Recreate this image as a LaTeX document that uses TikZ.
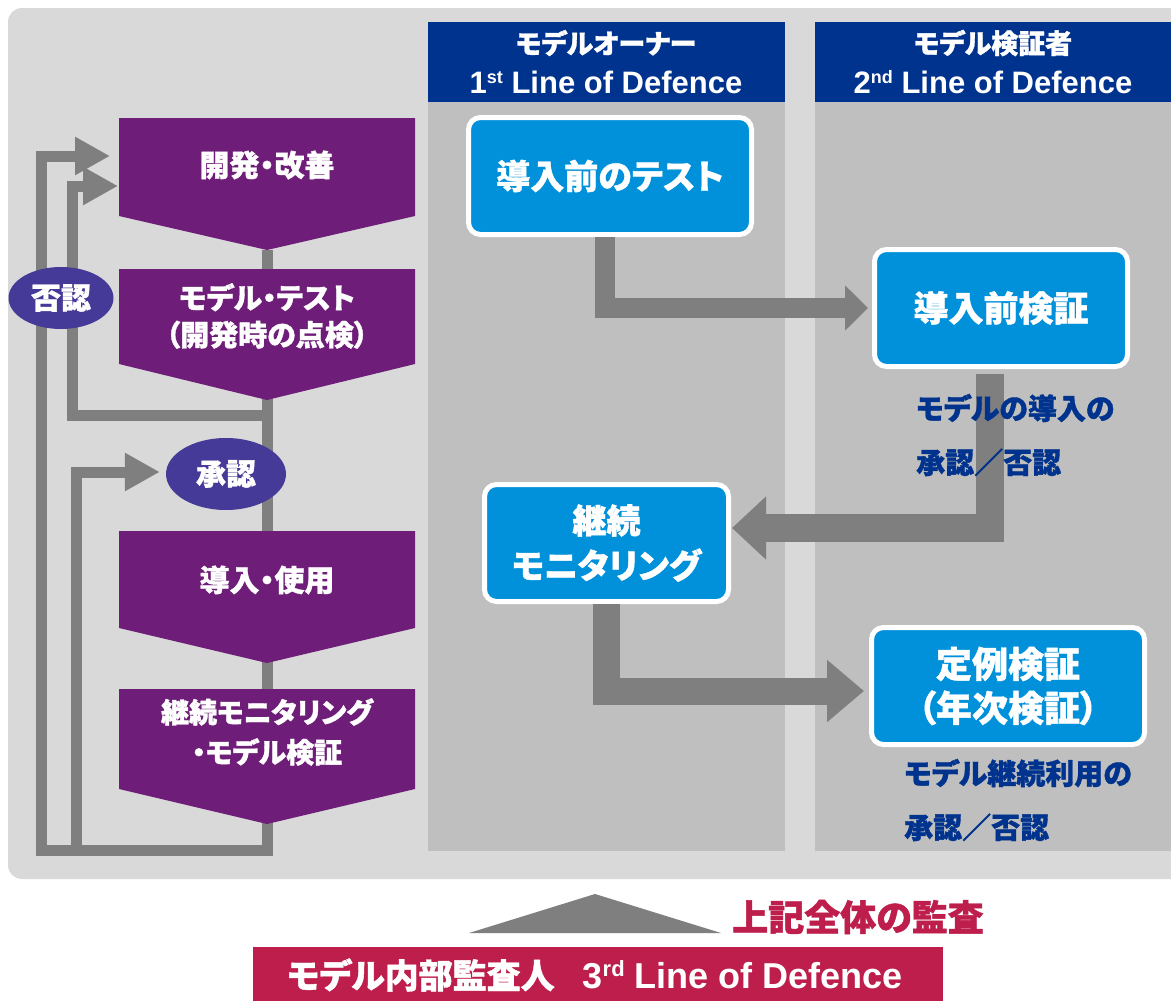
\documentclass[tikz,border=0pt]{standalone}
\usepackage{fontspec}
\newfontfamily\jp{Noto Sans CJK JP}[RawFeature=+palt,BoldFeatures={FakeBold=1.2}]
\newfontfamily\lat{Liberation Sans}
\usetikzlibrary{arrows.meta,shapes.geometric}
\definecolor{bgc}{HTML}{D9D9D9}
\definecolor{colc}{HTML}{BFBFBF}
\definecolor{hdrc}{HTML}{00338D}
\definecolor{purc}{HTML}{6E1E78}
\definecolor{ellc}{HTML}{463A98}
\definecolor{boxc}{HTML}{0091DA}
\definecolor{flowc}{HTML}{7F7F7F}
\definecolor{crim}{HTML}{BE1E4B}
\newcommand\setfs[2]{\fontsize{#1}{#2}\selectfont}
\begin{document}
\begin{tikzpicture}[x=1pt,y=-1pt,
 flow/.style={draw=flowc,line width=11pt,line join=miter},
 ftip/.style={-{Triangle[length=35pt,width=36pt]}},
 ptxt/.style={text=white,font=\jp\bfseries\setfs{29}{37},align=center,inner sep=0pt},
 bbox/.style={rounded corners=12pt,fill=boxc,draw=white,line width=5pt,text=white,align=center,inner sep=0pt,font=\jp\bfseries\setfs{35}{44},minimum height=117pt},
 ell/.style={ellipse,fill=ellc,text=white,inner sep=0pt,font=\jp\bfseries\setfs{30}{32}},
 hjp/.style={text=white,font=\jp\bfseries\setfs{27}{30},inner sep=0pt},
 hlat/.style={text=white,font=\lat\bfseries\setfs{31}{34},inner sep=0pt},
 lab/.style={text=hdrc,font=\jp\bfseries\setfs{29}{54},align=left,inner sep=0pt,anchor=west},
 big/.style={draw=flowc,line join=miter},
]
\useasboundingbox (0,0) rectangle (1171,1001);
\fill[white] (0,0) rectangle (1171,1001);
\fill[bgc,rounded corners=14pt] (8,8) rectangle (1200,879);
% columns
\fill[colc] (428,102) rectangle (785,851);
\fill[colc] (815,102) rectangle (1171,851);
\fill[hdrc] (428,22) rectangle (785,102);
\fill[hdrc] (815,22) rectangle (1171,102);
\node[hjp] (h1a) at (606,43) {モデルオーナー};
\node[hlat] (h1b) at (606,82) {1\raisebox{10pt}{\setfs{18}{18}st} Line of Defence};
\node[hjp] (h2a) at (993,43) {モデル検証者};
\node[hlat] (h2b) at (993,82) {2\raisebox{10pt}{\setfs{18}{18}nd} Line of Defence};

% left flow lines
\coordinate (spTop) at (267,250);
\coordinate (spBot) at (267,850);
\coordinate (in1) at (110,156);
\coordinate (in2) at (118,186);
\coordinate (rejS) at (267,415);
\coordinate (bL) at (76,850);
\draw[flow,ftip] (spTop) -- (spBot) -- (41,850) -- (41,156) -- (in1);
\draw[flow,ftip] (rejS) -- (72,415) -- (72,186) -- (in2);

% purple steps
\foreach \t/\b/\p in {118/216/250, 269/364/400, 531/628/663, 689/789/824}
  \fill[purc] (119,\t) -- (415,\t) -- (415,\b) -- (267,\p) -- (119,\b) -- cycle;
\node[ptxt,font=\jp\bfseries\setfs{30}{37}] (p1) at (267,165) {開発・改善};
\node[ptxt,font=\jp\bfseries\setfs{29}{37}] (p2) at (267,316) {モデル・テスト\\（開発時の点検）};
\node[ptxt,font=\jp\bfseries\setfs{30}{37}] (p3) at (267,580) {導入・使用};
\node[ptxt,font=\jp\bfseries\setfs{28}{40}] (p4) at (267,732) {継続モニタリング\\・モデル検証};

% ellipses
\node[ell,minimum width=105pt,minimum height=62pt] (rej) at (61,298) {否認};
\node[ell,minimum width=120pt,minimum height=72pt] (app) at (226,474) {承認};
\draw[flow,ftip] (bL) -- (76,472) -- ([xshift=-6pt,yshift=2pt]app.west);

% blue boxes
\node[bbox,minimum width=283pt,font=\jp\bfseries\setfs{34}{44}] (b1) at (610,176) {導入前のテスト};
\node[bbox,minimum width=253pt] (b2) at (1001,308) {導入前検証};
\node[bbox,minimum width=244pt,font=\jp\bfseries\setfs{34}{45}] (b3) at (606.5,543) {継続\\モニタリング};
\node[bbox,minimum width=273pt,font=\jp\bfseries\setfs{36}{44}] (b4) at (1008,686) {定例検証\\（年次検証）};

% big arrows
\draw[big,line width=20pt,-{Triangle[length=23pt,width=44pt]}]
  ([xshift=-5pt]b1.south) |- ([xshift=-4pt]b2.west);
\draw[big,line width=28pt,-{Triangle[length=34pt,width=61pt]}]
  ([xshift=-11pt,yshift=-5pt]b2.south) |- ([xshift=1pt,yshift=15pt]b3.east);
\draw[big,line width=27pt,-{Triangle[length=37pt,width=60pt]}]
  (b3.south) |- ([xshift=-5pt,yshift=-5pt]b4.west);

% labels
\node[lab] (l1) at (916,435) {モデルの導入の\\承認／否認};
\node[lab] (l2) at (904,800) {モデル継続利用の\\承認／否認};

% bottom
\coordinate (triL) at (469,933);
\coordinate (triT) at (595,894);
\coordinate (triR) at (721,933);
\fill[flowc] (triL) -- (triT) -- (triR) -- cycle;
\node[text=crim,font=\jp\bfseries\setfs{36}{40},inner sep=0pt] (audit) at (858,917) {上記全体の監査};
\fill[crim] (253,947) rectangle (943,1010);
\node[text=white,inner sep=0pt] (third) at (595,975)
  {{\jp\bfseries\setfs{34}{40}モデル内部監査人}\hspace{28pt}{\lat\bfseries\setfs{36}{40}3\raisebox{12pt}{\setfs{22}{22}rd} Line of Defence}};
\end{tikzpicture}
\end{document}
